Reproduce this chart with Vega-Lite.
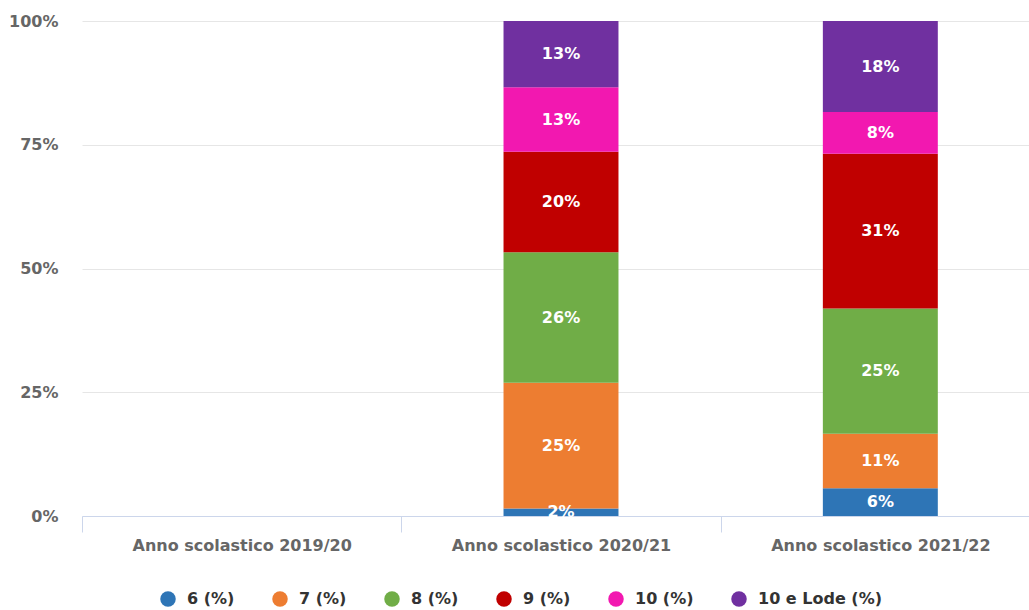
{
  "$schema": "https://vega.github.io/schema/vega-lite/v6.json",
  "autosize": "none",
  "width": 958,
  "height": 495,
  "padding": {"left": 82, "top": 21, "right": 0, "bottom": 94},
  "background": "white",
  "config": {
    "view": {"stroke": null},
    "font": "DejaVu Sans"
  },
  "data": {
    "values": [
      {"year": "Anno scolastico 2020/21", "grade": "6 (%)", "ord": 1, "v": 0.015},
      {"year": "Anno scolastico 2020/21", "grade": "7 (%)", "ord": 2, "v": 0.254},
      {"year": "Anno scolastico 2020/21", "grade": "8 (%)", "ord": 3, "v": 0.264},
      {"year": "Anno scolastico 2020/21", "grade": "9 (%)", "ord": 4, "v": 0.203},
      {"year": "Anno scolastico 2020/21", "grade": "10 (%)", "ord": 5, "v": 0.130},
      {"year": "Anno scolastico 2020/21", "grade": "10 e Lode (%)", "ord": 6, "v": 0.134},
      {"year": "Anno scolastico 2021/22", "grade": "6 (%)", "ord": 1, "v": 0.056},
      {"year": "Anno scolastico 2021/22", "grade": "7 (%)", "ord": 2, "v": 0.110},
      {"year": "Anno scolastico 2021/22", "grade": "8 (%)", "ord": 3, "v": 0.253},
      {"year": "Anno scolastico 2021/22", "grade": "9 (%)", "ord": 4, "v": 0.313},
      {"year": "Anno scolastico 2021/22", "grade": "10 (%)", "ord": 5, "v": 0.084},
      {"year": "Anno scolastico 2021/22", "grade": "10 e Lode (%)", "ord": 6, "v": 0.184}
    ]
  },
  "encoding": {
    "x": {
      "field": "year",
      "type": "nominal",
      "scale": {
        "domain": ["Anno scolastico 2019/20", "Anno scolastico 2020/21", "Anno scolastico 2021/22"],
        "paddingInner": 0,
        "paddingOuter": 0
      },
      "axis": {
        "title": null,
        "labelAngle": 0,
        "labelLimit": 0,
        "labelFont": "DejaVu Sans",
        "labelFontSize": 16,
        "labelFontWeight": "bold",
        "labelColor": "#666666",
        "labelPadding": 5,
        "domainColor": "#ccd6eb",
        "domainWidth": 1,
        "tickColor": "#ccd6eb",
        "tickSize": 16,
        "tickBand": "extent",
        "grid": false
      }
    }
  },
  "layer": [
    {
      "mark": {"type": "bar", "width": {"band": 0.36}},
      "encoding": {
        "y": {
          "field": "v",
          "type": "quantitative",
          "stack": "normalize",
          "scale": {"domain": [0, 1]},
          "axis": {
            "title": null,
            "format": ".0%",
            "values": [0, 0.25, 0.5, 0.75, 1],
            "domain": false,
            "ticks": false,
            "labelPadding": 24,
            "labelFont": "DejaVu Sans",
            "labelFontSize": 16,
            "labelFontWeight": "bold",
            "labelColor": "#666666",
            "gridColor": "#e6e6e6",
            "gridWidth": 1
          }
        },
        "color": {
          "field": "grade",
          "type": "nominal",
          "scale": {
            "domain": ["6 (%)", "7 (%)", "8 (%)", "9 (%)", "10 (%)", "10 e Lode (%)"],
            "range": ["#2e75b6", "#ed7d31", "#70ad47", "#c00000", "#f218b0", "#7030a0"]
          },
          "legend": {
            "title": null,
            "orient": "none",
            "direction": "horizontal",
            "legendX": 78,
            "legendY": 570,
            "symbolType": "circle",
            "symbolSize": 240,
            "symbolStrokeWidth": 0,
            "labelFont": "DejaVu Sans",
            "labelFontSize": 16,
            "labelFontWeight": "bold",
            "labelColor": "#333333",
            "labelOffset": 11,
            "columnPadding": 37
          }
        },
        "order": {"field": "ord", "type": "quantitative"}
      }
    },
    {
      "transform": [
        {"stack": "v", "groupby": ["year"], "sort": [{"field": "ord", "order": "ascending"}], "as": ["y0", "y1"], "offset": "normalize"},
        {"fold": ["y0", "y1"], "as": ["edge", "pos"]},
        {"aggregate": [{"op": "mean", "field": "pos", "as": "mid"}, {"op": "max", "field": "v", "as": "v"}], "groupby": ["year", "grade", "ord"]}
      ],
      "mark": {"type": "text", "color": "white", "font": "DejaVu Sans", "fontSize": 16, "fontWeight": "bold", "baseline": "middle"},
      "encoding": {
        "y": {"field": "mid", "type": "quantitative", "scale": {"domain": [0, 1]}},
        "text": {"field": "v", "type": "quantitative", "format": ".0%"}
      }
    }
  ]
}
